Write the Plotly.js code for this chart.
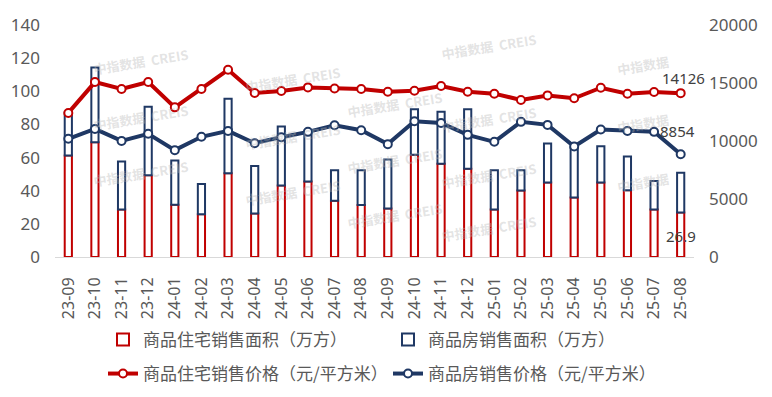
<!DOCTYPE html>
<html><head><meta charset="utf-8">
<script src="https://cdn.plot.ly/plotly-3.0.1.min.js"></script>
<style>html,body{margin:0;padding:0;background:#fff}#chart{width:772px;height:397px}</style>
</head><body><div id="chart"></div>
<script>
// ---- data ----
const months = ['23-09','23-10','23-11','23-12','24-01','24-02','24-03','24-04','24-05','24-06','24-07','24-08',
                '24-09','24-10','24-11','24-12','25-01','25-02','25-03','25-04','25-05','25-06','25-07','25-08'];
const resArea   = [61.3, 69.3, 28.7, 49.3, 31.6, 25.8, 50.5, 26.2, 43.1, 45.5, 34.0, 31.4,
                   29.2, 61.7, 56.3, 53.3, 28.7, 40.1, 44.9, 35.9, 44.9, 40.3, 28.7, 26.9];
const totalArea = [87.0, 114.4, 57.7, 90.7, 58.3, 44.0, 95.5, 54.9, 78.7, 75.5, 52.3, 52.3,
                   58.9, 89.1, 87.7, 89.1, 52.3, 52.3, 68.5, 66.0, 66.9, 60.7, 45.9, 50.9];
const resPrice  = [12420, 15080, 14480, 15080, 12900, 14480, 16140, 14140, 14310, 14620, 14530, 14480,
                   14250, 14330, 14740, 14250, 14080, 13540, 13930, 13680, 14590, 14080, 14220, 14126];
const allPrice  = [10190, 11040, 10010, 10620, 9210, 10360, 10870, 9810, 10330, 10790, 11360, 10930,
                   9730, 11700, 11560, 10530, 9930, 11650, 11390, 9530, 10990, 10870, 10790, 8854];
const names = ['商品住宅销售面积（万方）','商品房销售面积（万方）','商品住宅销售价格（元/平方米）','商品房销售价格（元/平方米）'];

// ---- style ----
const RED = '#C00000', NAVY = '#1F3864', GREY = '#595959';
const CJK = '"Noto Sans CJK SC", "Noto Sans", sans-serif';
const NUM = '"Noto Sans", "Noto Sans CJK SC", sans-serif';
const W = 772, H = 397, M = {l: 55, r: 78, t: 25, b: 140, autoexpand: false};
const PW = W - M.l - M.r, PH = H - M.t - M.b;
const px = x => (x - M.l) / PW;
const py = y => (H - M.b - y) / PH;

const restDiff = totalArea.map((v, i) => v - resArea[i]);
const last = months.length - 1;

const traces = [
  {type: 'bar', name: names[0], x: months, y: resArea, base: 0, width: 0.27,
   marker: {color: '#FFFFFF', line: {color: RED, width: 2}}, legend: 'legend'},
  {type: 'bar', name: names[1], x: months, y: restDiff, base: resArea, width: 0.27,
   marker: {color: '#FFFFFF', line: {color: NAVY, width: 2}}, legend: 'legend'},
  {type: 'scatter', mode: 'lines+markers', name: names[2], x: months, y: resPrice, yaxis: 'y2',
   line: {color: RED, width: 4}, marker: {size: 8, color: '#FFFFFF', line: {color: RED, width: 2}},
   legend: 'legend2', cliponaxis: false},
  {type: 'scatter', mode: 'lines+markers', name: names[3], x: months, y: allPrice, yaxis: 'y2',
   line: {color: NAVY, width: 4}, marker: {size: 8, color: '#FFFFFF', line: {color: NAVY, width: 2}},
   legend: 'legend2', cliponaxis: false}
];

// watermark positions (pixels)
const wm = [
  [90,42,1],[90,117,1],[90,193,1],
  [242,60,1],[242,136,1],[242,212,1],
  [395,85,1],[395,160,1],[395,235,1],
  [540,27,1],[540,100,1],[540,175,1],[540,248,1],
  [672,50,0],[672,123,0],[672,198,0]
];
const annotations = wm.map(([x, y, full]) => ({
  xref: 'paper', yref: 'paper', x: px(x), y: py(y), showarrow: false, textangle: -9,
  text: full ? '<b>中指数据  CREIS</b>' : '<b>中指数据</b>',
  font: {family: CJK, size: 13, color: 'rgba(185,185,185,0.4)'}
}));
annotations.push(
  {xref: 'x', yref: 'y2', x: months[last], y: resPrice[last], text: String(resPrice[last]),
   showarrow: false, xshift: 3, yshift: 15, font: {family: NUM, size: 15, color: '#404040'}},
  {xref: 'x', yref: 'y2', x: months[last], y: allPrice[last], text: String(allPrice[last]),
   showarrow: false, xshift: -3, yshift: 23, font: {family: NUM, size: 15, color: '#404040'}},
  {xref: 'x', yref: 'y', x: months[last], y: resArea[last], text: String(resArea[last]),
   showarrow: false, xshift: 0, yshift: -24, font: {family: NUM, size: 15, color: '#404040'}}
);

const legendBase = {
  orientation: 'h', xanchor: 'left', yanchor: 'middle', x: px(103),
  entrywidth: 240, entrywidthmode: 'pixels', bgcolor: 'rgba(0,0,0,0)',
  font: {family: CJK, size: 17, color: GREY}, traceorder: 'normal'
};

const layout = {
  width: W, height: H, margin: M, paper_bgcolor: '#FFFFFF', plot_bgcolor: '#FFFFFF',
  barmode: 'overlay', showlegend: true,
  font: {family: NUM, color: GREY},
  xaxis: {type: 'category', range: [-0.5, months.length - 0.5], tickangle: -90, automargin: false,
          tickfont: {family: NUM, size: 16, color: GREY}, showline: true, linecolor: '#D9D9D9',
          linewidth: 1, ticks: '', showgrid: false, zeroline: false, ticklabelstandoff: 13, fixedrange: true},
  yaxis: {range: [0, 140], dtick: 20, showgrid: false, zeroline: false, ticks: '', automargin: false,
          tickfont: {family: NUM, size: 17, color: GREY}, ticklabelstandoff: 14, fixedrange: true},
  yaxis2: {range: [0, 20000], dtick: 5000, tickformat: 'd', overlaying: 'y', side: 'right', showgrid: false,
           zeroline: false, ticks: '', tickfont: {family: NUM, size: 17, color: GREY}, automargin: false,
           ticklabelstandoff: 14, fixedrange: true},
  legend: Object.assign({}, legendBase, {y: py(340)}),
  legend2: Object.assign({}, legendBase, {y: py(374)}),
  annotations: annotations
};

Plotly.newPlot('chart', traces, layout, {displayModeBar: false, staticPlot: true});
</script>
</body></html>
